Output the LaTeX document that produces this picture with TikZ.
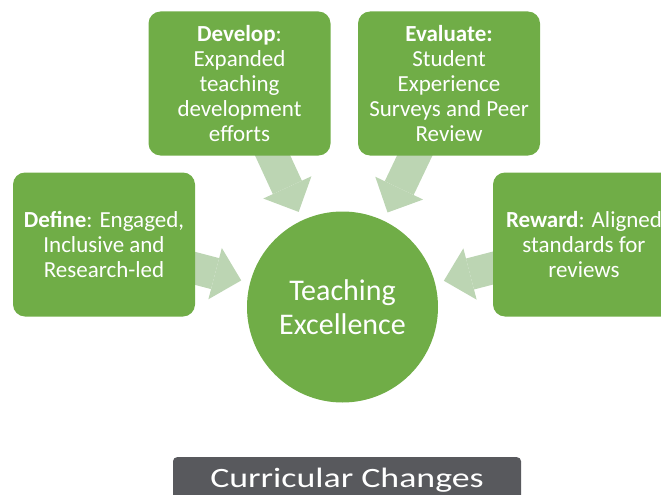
\documentclass[tikz,border=0pt]{standalone}
\usepackage{fontspec}
\usepackage{graphicx}
\setmainfont{Carlito}
\usetikzlibrary{arrows.meta}
\pgfdeclarelayer{background}
\pgfsetlayers{background,main}
\definecolor{boxgreen}{RGB}{112,173,71}
\definecolor{arrowgreen}{RGB}{188,213,179}
\definecolor{labelgrey}{RGB}{88,89,93}
\tikzset{
  stepbox/.style={fill=boxgreen, draw=none, rounded corners=12pt, text=white,
    align=center, inner sep=0pt, minimum width=182pt, minimum height=144pt,
    font=\fontsize{23pt}{25pt}\selectfont},
  hub/.style={circle, fill=boxgreen, draw=none, text=white, align=center,
    minimum size=191pt, inner sep=0pt, font=\fontsize{30pt}{34pt}\selectfont},
  blockarrow/.style={draw=arrowgreen, line width=32pt,
    -{Triangle[width=53pt,length=27pt,line width=0pt]},
    shorten <=-20pt, shorten >=9pt},
}
\begin{document}
\begin{tikzpicture}[x=1pt,y=-1pt]
\useasboundingbox (0,0) rectangle (661,495);
\clip (0,0) rectangle (661,495);
\node[stepbox] (dev) at (239.5,83.5) {\textbf{Develop}:\\Expanded\\teaching\\development\\efforts};
\node[stepbox] (eva) at (449,83.5) {\textbf{Evaluate:}\\Student\\Experience\\Surveys and Peer\\Review};
\node[stepbox] (def) at (104,244.5) {\textbf{Define}: Engaged,\\Inclusive and\\Research-led};
\node[stepbox] (rew) at (584,244.5) {\textbf{Reward}: Aligned\\standards for\\reviews};
\node[hub] (te) at (342.5,307) {Teaching\\Excellence};
\begin{pgfonlayer}{background}
\draw[blockarrow] (dev) -- (te);
\draw[blockarrow] (eva) -- (te);
\draw[blockarrow] (def) -- (te);
\draw[blockarrow] (rew) -- (te);
\end{pgfonlayer}
\node[fill=labelgrey, rounded corners=4pt, minimum width=348pt, minimum height=50pt,
  anchor=north, inner sep=0pt] (lab) at (347,457) {};
\node[text=white, font=\fontsize{28pt}{34pt}\selectfont, anchor=base] (labtext) at (347,487)
  {\scalebox{1.28}[1]{Curricular Changes}};
\end{tikzpicture}
\end{document}
